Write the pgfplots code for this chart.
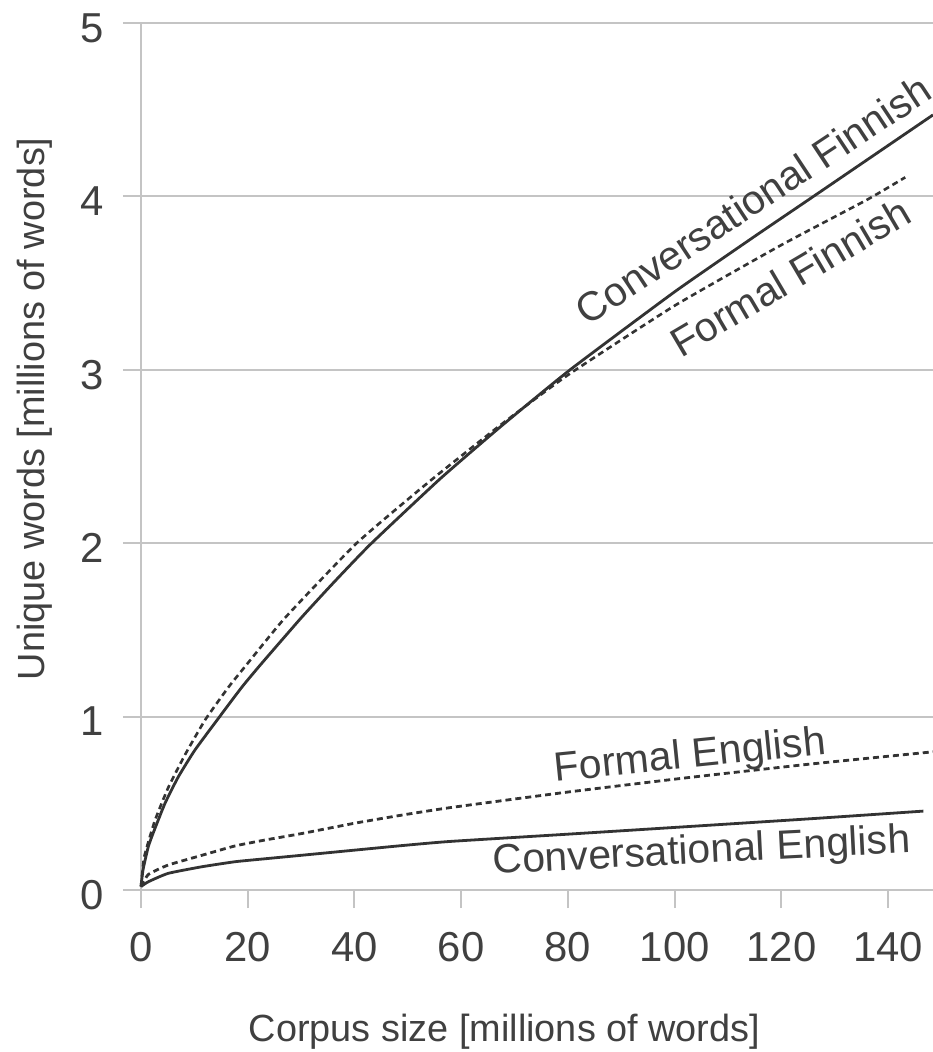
\documentclass[border=0pt]{standalone}
\usepackage{pgfplots}
\pgfplotsset{compat=1.18}
\usepackage{fontspec}
\setmainfont{Liberation Sans}
\definecolor{txt}{HTML}{404040}
\definecolor{ln}{HTML}{333333}
\definecolor{grd}{HTML}{C4C4C4}
\begin{document}
\begin{tikzpicture}
\begin{axis}[
  at={(0,0)}, anchor=south west,
  scale only axis, width=396bp, height=433.5bp,
  xmin=0, xmax=148.4, ymin=0, ymax=5,
  axis lines=left,
  axis line style={-, draw=grd, line width=1bp},
  xtick={0,20,...,140}, ytick={0,1,2,3,4,5},
  tick align=outside, major tick length=9bp,
  tick style={draw=grd, line width=1bp},
  ymajorgrids, major grid style={draw=grd, line width=1bp},
  ticklabel style={font=\fontsize{21}{25}\selectfont, text=txt},
  xticklabel style={yshift=-8.5bp},
  yticklabel style={xshift=-6bp, yshift=-2.5bp},
  /pgf/number format/assume math mode=true,
  xlabel={Corpus size [millions of words]},
  ylabel={Unique words [millions of words]},
  label style={font=\fontsize{19}{23}\selectfont, text=txt},
  xlabel style={at={(axis description cs:0.459,-0.1753)}, anchor=base},
  ylabel style={at={(axis description cs:-0.1338,0.555)}, anchor=center},
  clip=false,
]
% Conversational Finnish
\addplot[ln, line width=1.4bp, smooth, tension=0.3] coordinates {
(0,0.02) (0.4,0.12) (1.37,0.25) (2.3,0.33) (4.5,0.50) (7,0.653) (10.1,0.807)
(14.5,0.99) (18.9,1.17) (22.5,1.303) (30,1.569) (36,1.77) (43,1.994) (56,2.37)
(67.3,2.67) (80.4,3.0) (100,3.45) (115,3.77) (126,4.0) (148.4,4.47)};
% Formal Finnish
\addplot[ln, line width=1.3bp, dash pattern=on 3bp off 2bp, smooth, tension=0.3] coordinates {
(0,0.02) (0.6,0.19) (2.6,0.40) (5.1,0.59) (8.25,0.78) (12.0,0.98) (16.4,1.17)
(19.8,1.30) (27,1.57) (40.4,2.0) (54.2,2.36) (67.3,2.68) (80,2.97) (100,3.37)
(120,3.72) (136,3.98) (143.2,4.11)};
% Formal English
\addplot[ln, line width=1.4bp, dash pattern=on 3bp off 2bp, smooth, tension=0.3] coordinates {
(0,0.02) (1.4,0.09) (5.1,0.144) (11.4,0.20) (17.6,0.254) (23.2,0.288) (30,0.325)
(40,0.385) (48.5,0.43) (57.9,0.475) (80,0.565) (101.6,0.645) (125,0.725) (148.4,0.797)};
% Conversational English
\addplot[ln, line width=1.4bp, smooth, tension=0.3] coordinates {
(0,0.02) (1.4,0.048) (5.1,0.096) (11.4,0.134) (17.6,0.163) (23.2,0.18) (30,0.20)
(48.5,0.255) (57.9,0.28) (80,0.322) (101.6,0.364) (125,0.41) (146.6,0.455)};
\node[rotate=33.5, text=txt, font=\fontsize{20.5}{24}\selectfont] at (axis cs:114.7,3.98) {Conversational Finnish};
\node[rotate=30.5, text=txt, font=\fontsize{20.5}{24}\selectfont] at (axis cs:121.6,3.535) {Formal Finnish};
\node[rotate=5.8, text=txt, font=\fontsize{20.5}{24}\selectfont] at (axis cs:102.9,0.765) {Formal English};
\node[rotate=2.9, text=txt, font=\fontsize{20.5}{24}\selectfont] at (axis cs:105.1,0.215) {Conversational English};
\end{axis}
\pgfresetboundingbox
\path[use as bounding box] (-70.5bp,-81bp) rectangle (396bp,445bp);
\end{tikzpicture}
\end{document}
